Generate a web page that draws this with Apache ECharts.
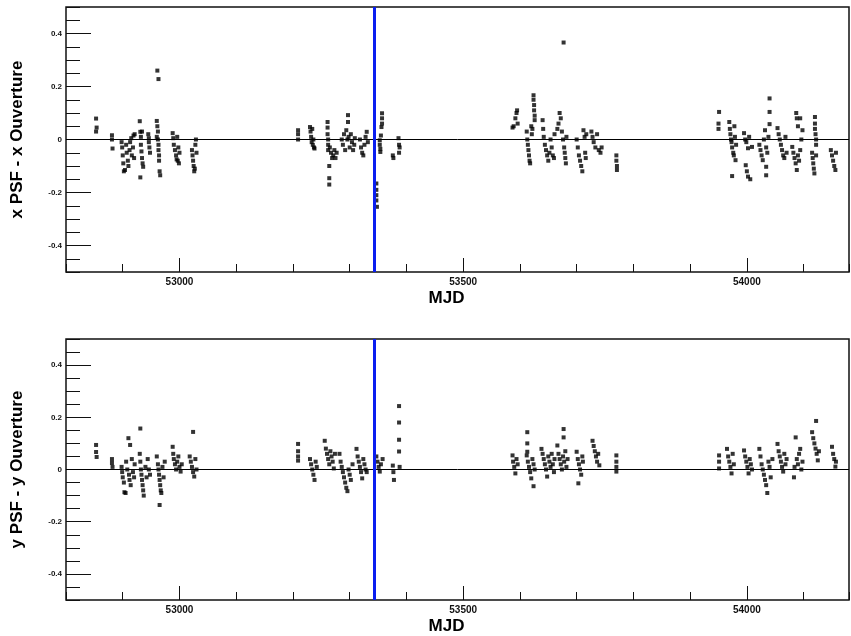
<!DOCTYPE html>
<html><head><meta charset="utf-8">
<script src="https://cdn.jsdelivr.net/npm/echarts@6/dist/echarts.min.js"></script>
<style>html,body{margin:0;padding:0;background:#fff}#c{width:851px;height:636px}</style>
</head><body><div id="c"></div>
<script>
// ---- axis data ----
const mjdMin = 52800, mjdMax = 54180;
const mjdMajorTicks = [53000, 53500, 54000];
const yMin = -0.5, yMax = 0.5;
const yMajorTicks = [-0.4, -0.2, 0, 0.2, 0.4];
const eventMjd = 53343;
const topTitle = 'x PSF - x Ouverture';
const botTitle = 'y PSF - y Ouverture';
const xTitle = 'MJD';

// ---- top panel: x PSF - x Ouverture ----
const topSeason1 = [[52853,0.079],[52854,0.045],[52853,0.03],[52881,0.016],[52881,0.0],[52882,-0.034],
[52898,-0.01],[52899,-0.03],[52900,-0.06],[52901,-0.09],[52902,-0.12],[52904,-0.115],[52906,-0.02],[52907,-0.05],[52909,-0.08],[52910,-0.1],[52912,-0.04],[52913,-0.01],[52915,0.005],[52916,-0.06],[52918,-0.03],[52919,0.015],[52920,-0.07],[52921,0.02],
[52930,0.069],[52931,-0.143],[52931,0.029],[52932,0.01],[52932,-0.02],[52933,-0.045],[52934,-0.07],[52935,-0.09],[52936,-0.103],[52934,0.03],
[52945,0.02],[52946,-0.01],[52947,-0.03],[52948,-0.05],[52946,0.005],
[52961,0.26],[52963,0.228],[52960,0.07],[52961,0.05],[52962,0.03],[52962,0.0],[52963,-0.02],[52963,-0.04],[52964,-0.06],[52964,-0.08],[52965,-0.12],[52966,-0.135],[52960,0.01],
[52988,0.024],[52989,0.005],[52990,-0.02],[52992,-0.04],[52994,-0.06],[52995,-0.075],[52996,0.01],[52998,-0.03],[53000,-0.05],[52999,-0.09],[52997,-0.08],
[53022,-0.04],[53023,-0.06],[53024,-0.08],[53025,-0.1],[53026,-0.12],[53028,-0.02],[53029,0.0],[53030,-0.05],[53027,-0.11]];
const topSeason2 = [[53209,0.035],[53209,0.02],[53209,0.0],
[53230,0.047],[53231,0.03],[53232,0.01],[53233,-0.01],[53234,0.04],[53235,-0.02],[53236,0.0],[53237,-0.03],[53238,-0.034],
[53261,0.066],[53261,0.045],[53261,0.02],[53262,0.0],[53262,-0.02],[53262,-0.04],
[53265,-0.03],[53267,-0.05],[53269,-0.07],[53271,-0.06],[53273,-0.04],[53275,-0.07],[53277,-0.05],
[53264,-0.1],[53264,-0.146],[53264,-0.17],
[53297,0.092],[53297,0.066],
[53286,0.0],[53288,-0.02],[53290,0.02],[53292,-0.04],[53294,0.035],[53296,0.0],[53298,0.01],[53300,-0.03],[53302,0.02],[53304,-0.01],[53306,-0.04],[53308,-0.02],[53309,0.005],
[53318,0.0],[53320,-0.03],[53322,-0.05],[53324,-0.06],[53326,-0.02],[53328,0.01],[53330,0.029],[53332,-0.01],
[53347,-0.166],[53347,-0.19],[53347,-0.21],[53347,-0.23],[53348,-0.254],
[53357,0.099],[53357,0.08],[53357,0.06],[53356,0.047],[53355,0.015],[53353,-0.003],[53353,-0.02],[53354,-0.035],[53354,-0.047],
[53376,-0.06],[53377,-0.07],[53386,0.005],[53387,-0.02],[53388,-0.03],[53387,-0.05]];
const topSeason3 = [[53677,0.366],
[53587,0.045],[53589,0.05],[53592,0.08],[53594,0.1],[53595,0.11],[53596,0.06],
[53624,0.167],[53624,0.15],[53625,0.13],[53625,0.11],[53626,0.09],[53626,0.073],
[53612,0.03],[53613,0.0],[53614,-0.02],[53615,-0.04],[53616,-0.06],[53617,-0.08],[53618,-0.09],[53620,0.05],[53621,0.02],[53622,0.04],
[53640,0.073],[53641,0.04],[53642,0.01],[53644,-0.02],[53646,-0.04],[53648,-0.06],[53650,-0.08],[53652,-0.05],[53654,0.0],[53656,-0.03],[53658,-0.06],[53660,-0.07],[53661,0.02],
[53666,0.04],[53668,0.06],[53670,0.1],[53672,0.08],[53674,0.03],[53676,0.0],[53678,-0.03],[53679,-0.05],[53680,-0.07],[53681,-0.09],[53682,0.01],
[53700,0.0],[53702,-0.03],[53704,-0.06],[53706,-0.08],[53708,-0.1],[53710,-0.12],[53712,0.035],[53714,0.01],[53715,-0.05],[53716,-0.07],[53717,0.02],
[53726,0.03],[53728,0.01],[53730,-0.01],[53733,-0.03],[53736,0.02],[53739,-0.04],[53742,-0.05],[53744,-0.03],
[53770,-0.06],[53770,-0.08],[53771,-0.1],[53771,-0.115]];
const topSeason4 = [[53951,0.104],[53950,0.06],[53950,0.04],
[53969,0.066],[53970,0.04],[53971,0.02],[53972,0.0],[53973,-0.01],[53974,-0.03],[53976,-0.05],[53977,-0.06],[53978,0.05],[53979,0.01],[53980,-0.078],[53981,-0.02],[53974,-0.138],
[53995,0.024],[53997,0.0],[53999,-0.01],[54002,-0.033],[54004,0.01],[53998,-0.097],[54000,-0.12],[54002,-0.14],[54006,-0.15],[54009,-0.028],
[54022,-0.02],[54024,-0.04],[54026,-0.06],[54028,-0.078],[54030,0.0],[54032,0.035],[54034,-0.03],[54036,-0.05],[54038,0.01],[54040,0.058],[54040,0.155],[54040,0.104],[54034,-0.103],[54034,-0.135],
[54054,0.043],[54056,0.02],[54058,0.0],[54060,-0.02],[54062,-0.04],[54064,-0.06],[54066,-0.07],[54068,0.01],[54070,-0.05],
[54087,0.1],[54088,0.08],[54090,0.05],[54094,0.08],[54098,0.035],[54096,0.0],
[54080,-0.028],[54082,-0.05],[54084,-0.07],[54086,-0.09],[54088,-0.115],[54090,-0.06],[54092,-0.08],[54094,-0.04],
[54120,0.085],[54120,0.06],[54120,0.04],[54121,0.02],[54122,0.0],[54122,-0.02],[54115,-0.05],[54116,-0.07],[54117,-0.09],[54118,-0.11],[54119,-0.128],[54122,-0.06],
[54148,-0.04],[54150,-0.06],[54152,-0.08],[54154,-0.1],[54156,-0.115],[54157,-0.05]];

// ---- bottom panel: y PSF - y Ouverture ----
const botSeason1 = [[52853,0.094],[52853,0.067],[52854,0.048],[52881,0.04],[52881,0.025],[52882,0.01],
[52898,0.01],[52899,-0.01],[52900,-0.03],[52902,-0.05],[52903,-0.087],[52905,-0.09],[52906,0.03],[52908,0.0],[52910,0.12],[52911,-0.02],[52912,-0.04],[52913,0.094],[52914,-0.06],[52916,0.04],[52918,-0.01],[52920,-0.03],[52921,0.02],
[52931,0.157],[52930,0.06],[52931,0.03],[52932,0.0],[52933,-0.02],[52934,-0.04],[52935,-0.06],[52936,-0.08],[52937,-0.1],[52940,0.01],[52942,-0.03],[52944,0.04],[52946,0.0],[52948,-0.02],
[52960,0.05],[52962,0.02],[52963,0.0],[52964,-0.02],[52965,-0.04],[52966,-0.06],[52967,-0.08],[52968,-0.09],[52970,0.01],[52972,-0.03],[52974,0.03],[52965,-0.136],
[52988,0.087],[52989,0.06],[52990,0.04],[52992,0.02],[52994,0.0],[52996,0.03],[52998,0.05],[53000,0.01],[53002,-0.008],[53004,0.02],
[53018,0.05],[53020,0.03],[53022,0.01],[53024,-0.01],[53026,-0.027],[53028,0.04],[53030,0.0],[53024,0.144]];
const botSeason2 = [[53209,0.098],[53209,0.07],[53209,0.05],[53209,0.034],
[53230,0.04],[53232,0.02],[53234,0.0],[53236,-0.02],[53238,-0.04],[53240,0.03],[53242,0.01],
[53256,0.11],[53258,0.08],[53260,0.06],[53262,0.04],[53264,0.02],[53266,0.07],[53268,0.05],[53270,0.03],[53272,0.004],[53274,0.06],
[53282,0.06],[53284,0.03],[53286,0.01],[53288,-0.01],[53290,-0.03],[53292,-0.05],[53294,-0.07],[53296,-0.083],[53298,0.0],[53300,-0.02],[53302,-0.04],[53305,0.02],
[53312,0.079],[53314,0.05],[53316,0.03],[53318,0.01],[53320,-0.01],[53322,-0.034],[53324,0.04],[53326,0.02],[53328,0.0],[53330,-0.01],
[53347,0.05],[53349,0.03],[53351,0.01],[53353,-0.008],[53355,0.02],[53358,0.04],
[53376,0.015],[53377,-0.01],[53378,-0.04],[53387,0.243],[53387,0.18],[53387,0.114],[53387,0.069],[53388,0.01]];
const botSeason3 = [[53587,0.054],[53588,0.03],[53590,0.01],[53592,-0.015],[53594,0.04],[53596,0.02],
[53613,0.143],[53613,0.1],[53613,0.068],
[53612,0.054],[53614,0.03],[53616,0.01],[53618,-0.01],[53620,-0.034],[53622,0.04],[53624,0.02],[53626,0.0],[53624,-0.064],
[53638,0.079],[53640,0.06],[53642,0.04],[53644,0.02],[53646,0.0],[53648,-0.027],[53650,0.05],[53652,0.03],[53654,0.01],[53656,0.06],[53658,0.02],[53660,-0.01],[53661,0.04],
[53677,0.155],[53677,0.123],
[53666,0.092],[53668,0.06],[53670,0.04],[53672,0.02],[53674,0.0],[53676,0.05],[53678,0.03],[53680,0.07],[53682,0.01],[53684,0.04],
[53700,0.068],[53702,0.04],[53704,0.02],[53706,0.0],[53708,-0.02],[53710,0.05],[53711,0.03],[53703,-0.053],
[53728,0.11],[53730,0.09],[53732,0.07],[53734,0.05],[53736,0.03],[53738,0.06],[53740,0.016],
[53770,0.054],[53770,0.03],[53770,0.01],[53770,-0.008]];
const botSeason4 = [[53951,0.054],[53951,0.03],[53951,0.004],
[53965,0.079],[53967,0.05],[53969,0.03],[53971,0.01],[53973,-0.015],[53975,0.06],[53977,0.02],
[53995,0.073],[53997,0.05],[53999,0.03],[54001,0.01],[54003,-0.015],[54005,0.04],[54007,0.02],[54009,0.0],
[54022,0.079],[54024,0.05],[54026,0.02],[54028,0.0],[54030,-0.02],[54032,-0.04],[54034,-0.06],[54036,-0.09],[54038,0.03],[54040,0.01],[54042,-0.03],[54045,0.04],
[54054,0.098],[54056,0.07],[54058,0.05],[54060,0.03],[54062,0.01],[54064,-0.008],[54066,0.06],[54068,0.02],[54070,0.04],
[54083,-0.03],[54084,0.01],[54086,0.123],[54088,0.04],[54090,0.02],[54092,0.06],[54094,0.079],[54096,0.0],[54098,0.03],
[54122,0.186],[54115,0.143],[54117,0.12],[54119,0.1],[54121,0.08],[54123,0.06],[54125,0.035],[54127,0.07],
[54150,0.087],[54152,0.06],[54154,0.04],[54156,0.011],[54157,0.03]];

// ---- build chart ----
const FONT = "'Liberation Sans', Arial, sans-serif";
const grids = [
  {left: 66, top: 7, width: 783, height: 265},
  {left: 66, top: 339, width: 783, height: 265}
].map(g => Object.assign(g, {show: true, borderColor: '#111', borderWidth: 1.5, backgroundColor: 'transparent'}));

function majorX(gi) {
  return {type: 'value', gridIndex: gi, position: 'bottom', min: mjdMin, max: mjdMax,
    name: xTitle, nameLocation: 'middle', nameGap: 18,
    nameTextStyle: {fontFamily: FONT, fontWeight: 'bold', fontSize: 17, color: '#000', verticalAlign: 'top', padding: [0, 22, 0, 0]},
    axisLine: {show: false, onZero: false}, splitLine: {show: false},
    axisTick: {show: true, inside: true, length: 14, customValues: mjdMajorTicks, lineStyle: {color: '#111', width: 1}},
    axisLabel: {show: true, customValues: mjdMajorTicks, fontFamily: FONT, fontWeight: 'bold', fontSize: 10, color: '#111', margin: 5,
      formatter: v => String(Math.round(v))}};
}
function minorX(gi) {
  return {type: 'value', gridIndex: gi, position: 'bottom', min: mjdMin, max: mjdMax, interval: 100,
    axisLine: {show: false, onZero: false}, splitLine: {show: false}, axisLabel: {show: false},
    axisTick: {show: true, inside: true, length: 8, lineStyle: {color: '#111', width: 1}}};
}
function majorY(gi, title) {
  return {type: 'value', gridIndex: gi, position: 'left', min: yMin, max: yMax,
    name: title, nameLocation: 'middle', nameRotate: 90, nameGap: 40,
    nameTextStyle: {fontFamily: FONT, fontWeight: 'bold', fontSize: 17, color: '#000'},
    axisLine: {show: false, onZero: false}, splitLine: {show: false},
    axisTick: {show: true, inside: true, length: 25, customValues: yMajorTicks, lineStyle: {color: '#111', width: 1}},
    axisLabel: {show: true, customValues: yMajorTicks, fontFamily: FONT, fontWeight: 'bold', fontSize: 8, color: '#111', margin: 4,
      formatter: v => (Math.abs(v) < 1e-9 ? '0' : String(+v.toFixed(1)))}};
}
function minorY(gi) {
  return {type: 'value', gridIndex: gi, position: 'left', min: yMin, max: yMax, interval: 0.05,
    axisLine: {show: false, onZero: false}, splitLine: {show: false}, axisLabel: {show: false},
    axisTick: {show: true, inside: true, length: 14, lineStyle: {color: '#111', width: 1}}};
}
function scatter(data, axisIdx) {
  return {type: 'scatter', xAxisIndex: axisIdx, yAxisIndex: axisIdx, data: data,
    symbol: 'rect', symbolSize: 4, itemStyle: {color: '#000'}, silent: true};
}
function refLines(axisIdx) {
  return {type: 'scatter', xAxisIndex: axisIdx, yAxisIndex: axisIdx, data: [], silent: true,
    markLine: {silent: true, symbol: 'none', animation: false, label: {show: false},
      data: [
        {yAxis: 0, lineStyle: {color: '#000', width: 1, type: 'solid'}},
        {xAxis: eventMjd, lineStyle: {color: '#0a1ef0', width: 3, type: 'solid'}}
      ]}};
}

const chart = echarts.init(document.getElementById('c'), null, {renderer: 'canvas'});
chart.setOption({
  animation: false,
  backgroundColor: '#fff',
  grid: grids,
  xAxis: [majorX(0), minorX(0), majorX(1), minorX(1)],
  yAxis: [majorY(0, topTitle), minorY(0), majorY(1, botTitle), minorY(1)],
  series: [
    refLines(0),
    scatter(topSeason1, 0), scatter(topSeason2, 0), scatter(topSeason3, 0), scatter(topSeason4, 0),
    refLines(2),
    scatter(botSeason1, 2), scatter(botSeason2, 2), scatter(botSeason3, 2), scatter(botSeason4, 2)
  ]
});
</script></body></html>
